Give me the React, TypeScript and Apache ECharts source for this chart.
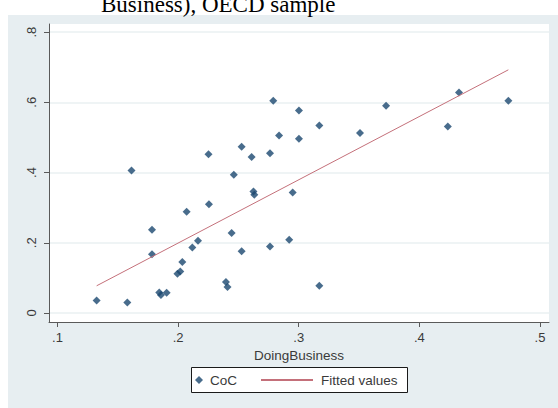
import React, { useEffect, useRef } from "react";
import * as echarts from "echarts";

// CoC against the DoingBusiness indicator, OECD sample
const cocX = [
  0.1325, 0.1579, 0.1614, 0.1784, 0.1784, 0.1844, 0.1858, 0.1905, 0.1995, 0.2018,
  0.2035, 0.2118, 0.2165, 0.2071, 0.2252, 0.2256, 0.2397, 0.241, 0.2444, 0.2462,
  0.2527, 0.2527, 0.261, 0.2625, 0.2632, 0.2762, 0.2762, 0.2789, 0.2837, 0.2921,
  0.295, 0.3002, 0.3002, 0.3171, 0.3171, 0.3508, 0.3724, 0.4236, 0.4329, 0.4738,
];
const cocY = [
  0.0356, 0.0299, 0.406, 0.237, 0.167, 0.0584, 0.051, 0.0575, 0.112, 0.118,
  0.145, 0.1866, 0.2056, 0.288, 0.452, 0.31, 0.088, 0.0738, 0.2276, 0.3936,
  0.4734, 0.1757, 0.444, 0.346, 0.3367, 0.4549, 0.1894, 0.6044, 0.5056, 0.2085,
  0.3432, 0.5765, 0.4962, 0.534, 0.0775, 0.5124, 0.59, 0.531, 0.628, 0.6044,
];

// Linear fit, drawn between the smallest and largest DoingBusiness values
const fitX = [0.1325, 0.4738];
const fitY = [0.0775, 0.6925];

const xTicks = [0.1, 0.2, 0.3, 0.4, 0.5];
const xTickLabels = [".1", ".2", ".3", ".4", ".5"];
const yTicks = [0, 0.2, 0.4, 0.6, 0.8];
const yTickLabels = ["0", ".2", ".4", ".6", ".8"];

// Plot region extends a little past the outer ticks on every side
const xExtent = [0.093, 0.5075];
const yExtent = [-0.0256, 0.823];

const SANS = "'Liberation Sans', Arial, sans-serif";
const INK = "#3a3a3a";
const AXIS = "#5a5a5a";

function tickLabel(values: number[], labels: string[]) {
  return (v: number) => {
    const i = values.findIndex((t) => Math.abs(t - v) < 1e-9);
    return i >= 0 ? labels[i] : "";
  };
}

export default function App() {
  const ref = useRef<HTMLDivElement>(null);

  useEffect(() => {
    if (!ref.current) return;
    const chart = echarts.init(ref.current, undefined, { renderer: "svg" });

    chart.setOption({
      animation: false,
      backgroundColor: "#ffffff",
      grid: {
        left: 49,
        top: 24,
        right: 9,
        bottom: 86,
        outerBoundsMode: "none",
        containLabel: false,
      },
      graphic: [
        {
          type: "rect",
          z: -100,
          shape: { x: 8, y: 15, width: 560, height: 400 },
          style: { fill: "#e7eef1" },
          silent: true,
        },
        {
          type: "rect",
          z: -50,
          shape: { x: 49, y: 24, width: 500, height: 298 },
          style: { fill: "#ffffff" },
          silent: true,
        },
        {
          type: "text",
          z: 100,
          x: 101,
          y: 16,
          style: {
            text: "Business), OECD sample",
            font: "23px 'Liberation Serif', 'Times New Roman', serif",
            fill: "#000000",
            textAlign: "left",
            textVerticalAlign: "bottom",
          },
          silent: true,
        },
        {
          type: "rect",
          z: 100,
          shape: { x: 191.5, y: 367.5, width: 216, height: 25 },
          style: { fill: "#ffffff", stroke: "#1a1a1a", lineWidth: 1 },
          silent: true,
        },
      ],
      legend: [
        {
          z: 200,
          data: [{ name: "CoC", icon: "diamond" }],
          left: 195,
          top: 373,
          padding: 0,
          itemWidth: 8,
          itemHeight: 8,
          selectedMode: false,
          textStyle: {
            fontFamily: SANS,
            fontSize: 13.5,
            color: INK,
            lineHeight: 14,
            padding: [0, 0, 0, 2],
          },
        },
        {
          z: 200,
          data: [{ name: "Fitted values", itemStyle: { opacity: 0 } }],
          left: 260,
          top: 373,
          padding: 0,
          itemWidth: 52,
          itemHeight: 8,
          selectedMode: false,
          textStyle: {
            fontFamily: SANS,
            fontSize: 13.5,
            color: INK,
            lineHeight: 14,
            padding: [0, 0, 0, 3],
          },
        },
      ],
      xAxis: {
        type: "value",
        min: xExtent[0],
        max: xExtent[1],
        name: "DoingBusiness",
        nameLocation: "middle",
        nameGap: 22,
        nameTextStyle: { fontFamily: SANS, fontSize: 13.5, color: INK },
        axisLine: { show: true, onZero: false, lineStyle: { color: AXIS, width: 1 } },
        axisTick: {
          show: true,
          inside: false,
          length: 5,
          customValues: xTicks,
          lineStyle: { color: AXIS, width: 1 },
        },
        axisLabel: {
          customValues: xTicks,
          formatter: tickLabel(xTicks, xTickLabels),
          margin: 9,
          fontFamily: SANS,
          fontSize: 13,
          color: INK,
        },
        splitLine: { show: false },
      },
      yAxis: {
        type: "value",
        min: yExtent[0],
        max: yExtent[1],
        axisLine: { show: true, onZero: false, lineStyle: { color: AXIS, width: 1 } },
        axisTick: {
          show: true,
          inside: false,
          length: 5,
          customValues: yTicks,
          lineStyle: { color: AXIS, width: 1 },
        },
        axisLabel: {
          customValues: yTicks,
          formatter: tickLabel(yTicks, yTickLabels),
          rotate: 90,
          margin: 11,
          fontFamily: SANS,
          fontSize: 13,
          color: INK,
        },
        splitLine: { show: true, lineStyle: { color: "#eaf1f2", width: 1.5 } },
      },
      series: [
        {
          name: "CoC",
          type: "scatter",
          z: 2,
          symbol: "diamond",
          symbolSize: 8,
          itemStyle: { color: "#1a476f" },
          data: cocX.map((x, i) => [x, cocY[i]]),
        },
        {
          name: "Fitted values",
          type: "line",
          z: 3,
          symbol: "none",
          showSymbol: false,
          lineStyle: { color: "#c4707a", width: 1 },
          itemStyle: { color: "#c4707a" },
          data: fitX.map((x, i) => [x, fitY[i]]),
        },
      ],
    });

    return () => chart.dispose();
  }, []);

  return (
    <div
      ref={ref}
      style={{ position: "fixed", left: 0, top: 0, width: 558, height: 408 }}
    />
  );
}
